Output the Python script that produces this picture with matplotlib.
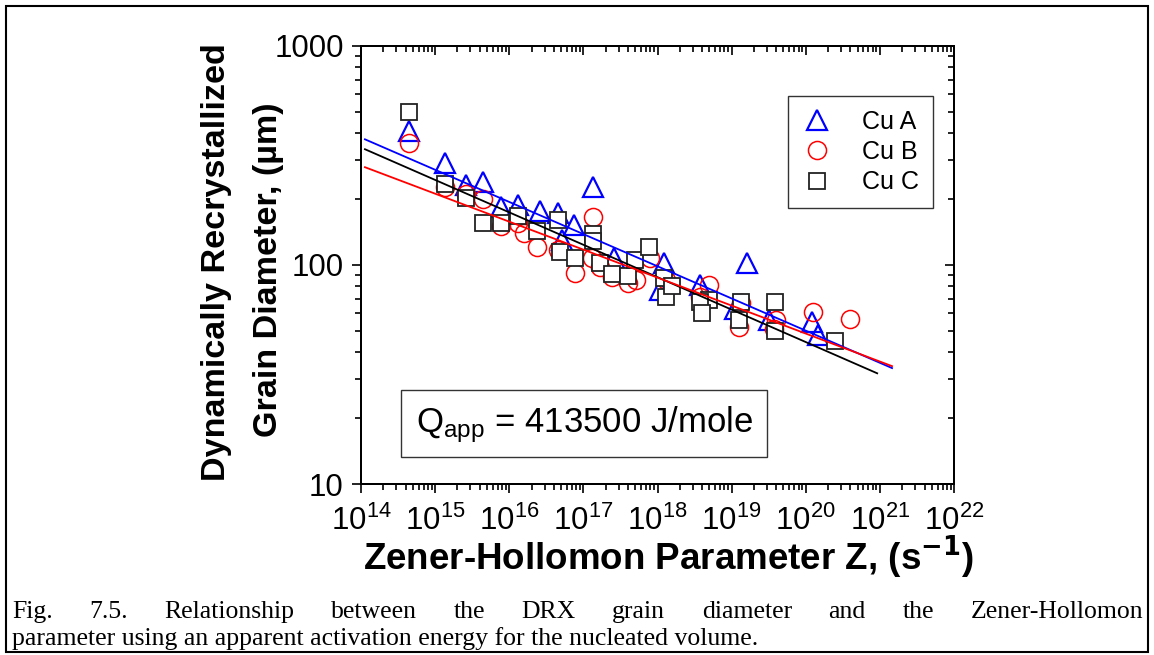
import matplotlib
matplotlib.use("Agg")
import matplotlib.pyplot as plt
from matplotlib.patches import Rectangle
from matplotlib.ticker import LogLocator, NullFormatter
import numpy as np

plt.rcParams['font.family'] = ['Liberation Sans', 'DejaVu Sans']
plt.rcParams['mathtext.default'] = 'regular'

W, H = 1154, 655

# Cu A (triangles)
z_a = [4.4e14, 1.35e15, 2.6e15, 4.4e15, 7.7e15, 1.3e16, 2.6e16, 4.5e16, 5.1e16, 7.4e16,
       1.33e17, 2.6e17, 1.23e18, 1.07e18, 3.7e18, 1.1e19, 1.6e19, 3.2e19, 1.23e20, 1.48e20]
d_a = [407, 291, 231, 238, 183, 187, 177, 172, 130, 152,
       226, 108, 102, 77, 81, 63, 102, 56, 55, 48]

# Cu B (circles)
z_b = [4.4e14, 1.35e15, 2.6e15, 4.4e15, 7.7e15, 1.3e16, 1.6e16, 2.4e16, 4.5e16, 7.6e16,
       1.33e17, 1.3e17, 1.66e17, 2.45e17, 4.0e17, 5.2e17, 7.8e17, 1.32e18, 5.0e18, 3.7e18,
       1.35e19, 1.26e19, 4.0e19, 3.76e19, 1.26e20, 3.9e20]
d_b = [359, 226, 210, 199, 150, 155, 140, 120, 117, 92,
       165, 108, 98, 88, 83, 85, 107, 85, 81, 71,
       67, 52, 56, 51, 61, 56.5]

# Cu C (squares)
z_c = [4.4e14, 1.35e15, 2.6e15, 4.4e15, 7.7e15, 1.3e16, 2.4e16, 4.5e16, 4.8e16, 7.6e16,
       1.33e17, 1.33e17, 1.66e17, 2.45e17, 4.0e17, 4.9e17, 7.6e17, 1.23e18, 1.32e18, 1.58e18,
       5.0e18, 3.7e18, 4.0e18, 1.35e19, 1.26e19, 3.9e19, 3.9e19, 2.5e20]
d_c = [497, 233, 201, 155, 155, 167, 143, 160, 114, 108,
       138, 128, 102, 91, 89, 105, 120, 87, 71, 80,
       69, 68, 60, 67.6, 56, 67.6, 50, 45]

# power-law fits (end points)
fit_a_z = [1.13e14, 1.46e21]
fit_a_d = [374, 33.8]
fit_b_z = [1.13e14, 1.46e21]
fit_b_d = [279, 34.5]
fit_c_z = [1.13e14, 9.2e20]
fit_c_d = [337, 32]

x_ticks = [1e14, 1e15, 1e16, 1e17, 1e18, 1e19, 1e20, 1e21, 1e22]
y_ticks = [10, 100, 1000]
y_tick_labels = ['10', '100', '1000']

caption_1 = "Fig. 7.5. Relationship between the DRX grain diameter and the Zener-Hollomon"
caption_2 = "parameter using an apparent activation energy for the nucleated volume."

fig = plt.figure(figsize=(W / 100, H / 100), dpi=100)
ax = fig.add_axes([361 / W, 1 - 484 / H, (954 - 361) / W, (484 - 45.7) / H])

ax.plot(z_a, d_a, linestyle='none', marker='^', ms=14, mfc='none', mec='#0000ff', mew=1.6,
        label='Cu A', zorder=3)
ax.plot(z_b, d_b, linestyle='none', marker='o', ms=13, mfc='none', mec='#ff0000', mew=1.1,
        label='Cu B', zorder=4)
ax.plot(z_c, d_c, linestyle='none', marker='s', ms=11, mfc='white', mec='#222222', mew=1.3,
        label='Cu C', zorder=5)

ax.plot(fit_a_z, fit_a_d, color='#0000ff', lw=1.3, zorder=6)
ax.plot(fit_c_z, fit_c_d, color='black', lw=1.3, zorder=6)
ax.plot(fit_b_z, fit_b_d, color='#ff0000', lw=1.3, zorder=6)

ax.set_xscale('log')
ax.set_yscale('log')
ax.set_xlim(1e14, 1e22)
ax.set_ylim(10, 1000)

ax.xaxis.set_major_locator(LogLocator(base=10, numticks=20))
ax.xaxis.set_minor_locator(LogLocator(base=10, subs=np.arange(2, 10), numticks=20))
ax.xaxis.set_minor_formatter(NullFormatter())
ax.set_xticks(x_ticks)
ax.set_yticks(y_ticks, y_tick_labels)
ax.yaxis.set_minor_formatter(NullFormatter())

ax.tick_params(which='both', direction='out', top=False, right=False, labelsize=22.5, width=1.2)
ax.tick_params(which='major', length=6.5)
ax.tick_params(which='minor', length=4)
ax.tick_params(axis='y', pad=6)
ax.tick_params(axis='x', pad=9)
for s in ax.spines.values():
    s.set_linewidth(1.4)

# mirrored ticks pointing inward on top / right
axt = ax.twiny()
axt.set_xscale('log')
axt.set_xlim(ax.get_xlim())
axt.xaxis.set_major_locator(LogLocator(base=10, numticks=20))
axt.xaxis.set_minor_locator(LogLocator(base=10, subs=np.arange(2, 10), numticks=20))
axt.tick_params(which='both', direction='in', labeltop=False, width=1.2)
axt.tick_params(which='major', length=6.5)
axt.tick_params(which='minor', length=4)
axr = ax.twinx()
axr.set_yscale('log')
axr.set_ylim(ax.get_ylim())
axr.yaxis.set_minor_locator(LogLocator(base=10, subs=np.arange(2, 10), numticks=20))
axr.tick_params(which='both', direction='in', labelright=False, width=1.2)
axr.tick_params(which='major', length=6.5)
axr.tick_params(which='minor', length=4)
for a in (axt, axr):
    for s in a.spines.values():
        s.set_linewidth(1.4)

leg = ax.legend(loc='upper left', bbox_to_anchor=(788 / W, 1 - 96 / H),
                bbox_transform=fig.transFigure, fontsize=18, frameon=True, fancybox=False,
                edgecolor='#333333', framealpha=1, borderpad=0.55, labelspacing=0.25,
                handlelength=1.2, handletextpad=1.2, borderaxespad=0)
leg.get_frame().set_linewidth(1.0)

# Q_app box
fig.patches.append(Rectangle((401 / W, 1 - 457 / H), (767 - 401) / W, (457 - 390) / H,
                             transform=fig.transFigure, fill=False, edgecolor='#333333', lw=1.0))
fig.text(584 / W, 1 - 425 / H, r'Q$_{app}$ = 413500 J/mole', fontsize=25, ha='center', va='center')

# axis titles
fig.text(216 / W, 1 - 262 / H, 'Dynamically Recrystallized', rotation=90, fontsize=24.6,
         fontweight='bold', ha='center', va='center')
fig.text(268 / W, 1 - 270 / H, 'Grain Diameter, (\u00b5m)', rotation=90, fontsize=24.6,
         fontweight='bold', ha='center', va='center')
fig.text(668 / W, 1 - 570 / H, r'Zener-Hollomon Parameter Z, (s$^{\mathbf{-1}}$)', fontsize=26.5,
         fontweight='bold', ha='center', va='baseline')

# outer frame
fig.patches.append(Rectangle((6 / W, 3 / H), (W - 12) / W, (H - 9) / H,
                             transform=fig.transFigure, fill=False, edgecolor='black', lw=1.5))

# caption, first line justified
cap_font = dict(fontsize=18.5, family=['Liberation Serif', 'DejaVu Serif'])
fig.canvas.draw()
r = fig.canvas.get_renderer()
words = caption_1.split(' ')
widths = []
for w in words:
    t = fig.text(0, 0, w, **cap_font)
    widths.append(t.get_window_extent(r).width)
    t.remove()
x0, x1 = 12, 1143
gap = (x1 - x0 - sum(widths)) / (len(words) - 1)
x = x0
for w, wd in zip(words, widths):
    fig.text(x / W, 1 - 618 / H, w, va='baseline', ha='left', **cap_font)
    x += wd + gap
fig.text(x0 / W, 1 - 645 / H, caption_2, va='baseline', ha='left', **cap_font)

fig.savefig('out.png', dpi=100)
